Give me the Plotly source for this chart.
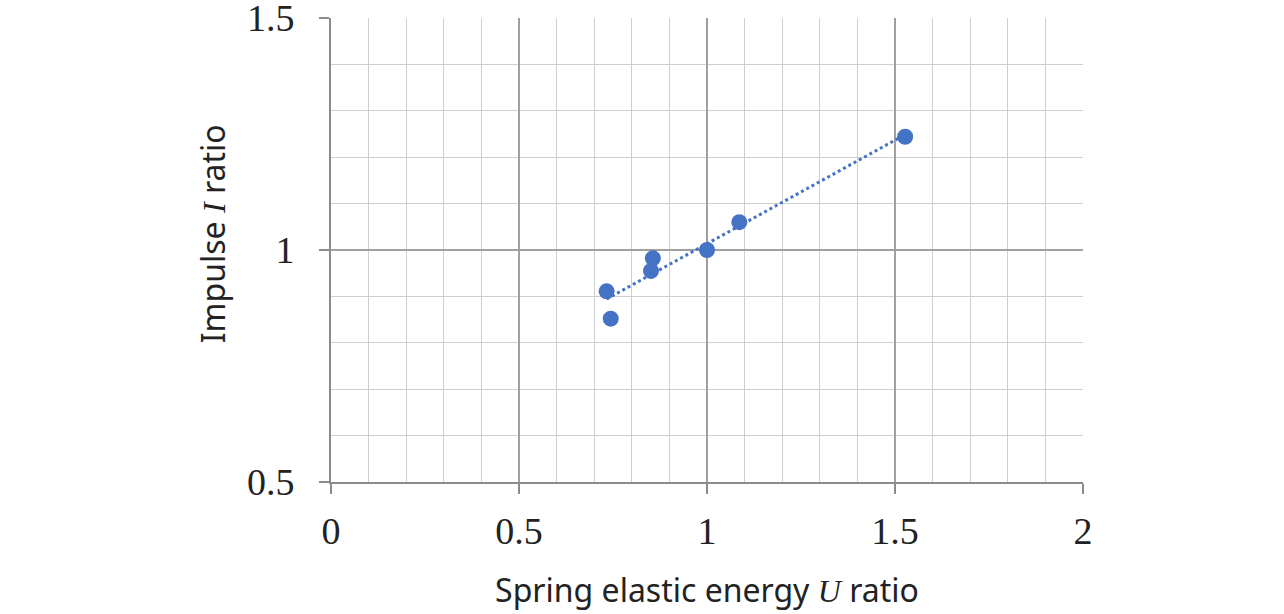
import numpy as np
import plotly.graph_objects as go

energy_ratio = [0.733, 0.744, 0.851, 0.856, 1.0, 1.086, 1.527]
impulse_ratio = [0.911, 0.852, 0.955, 0.982, 1.0, 1.060, 1.244]

x_ticks = [0, 0.5, 1, 1.5, 2]
y_ticks = [0.5, 1, 1.5]

blue = '#4472C4'
serif = 'Liberation Serif'
sans = 'Noto Sans'

# linear trendline through the points
slope, icpt = np.polyfit(energy_ratio, impulse_ratio, 1)
x_fit = [min(energy_ratio), max(energy_ratio)]
y_fit = [slope * v + icpt for v in x_fit]

trend = go.Scatter(x=x_fit, y=y_fit, mode='lines',
                   line=dict(color=blue, width=3, dash='dot'),
                   hoverinfo='skip')
points = go.Scatter(x=energy_ratio, y=impulse_ratio, mode='markers',
                    marker=dict(size=16, color=blue))

fig = go.Figure(data=[trend, points])

axis_common = dict(
    showgrid=True, gridcolor='#a0a0a0', gridwidth=1.5,
    minor=dict(dtick=0.1, showgrid=True, gridcolor='#cfcfcf', gridwidth=1,
               ticks=''),
    showline=True, linecolor='#8c8c8c', linewidth=2,
    ticks='outside', ticklen=10, tickcolor='#8c8c8c', tickwidth=2,
    tickfont=dict(family=serif, size=38, color='#222'),
    zeroline=False, fixedrange=True, automargin=False,
    ticklabeloverflow='allow',
)

fig.update_xaxes(range=[0, 2], tickvals=x_ticks,
                 ticktext=['0', '0.5', '1', '1.5', '2'],
                 ticklabelstandoff=4,
                 title=dict(text='Spring elastic energy <i><span style="font-family:Liberation Serif">U</span></i> ratio',
                            font=dict(family=sans, size=32, color='#222'),
                            standoff=29),
                 **axis_common)
fig.update_yaxes(range=[0.5, 1.5], tickvals=y_ticks,
                 ticktext=['0.5', '1', '1.5'],
                 ticklabelstandoff=17,
                 **axis_common)

# y title as an annotation so it can sit a little above centre like the original
fig.add_annotation(text='Impulse <i><span style="font-family:Liberation Serif">I</span></i> ratio',
                   xref='paper', yref='paper', x=0, y=0.534,
                   xshift=-119, xanchor='center', yanchor='middle',
                   textangle=-90, showarrow=False,
                   font=dict(family=sans, size=32, color='#222'))

fig.update_layout(
    width=1284, height=614,
    margin=dict(l=331, r=201, t=18, b=132),
    paper_bgcolor='white', plot_bgcolor='white',
    showlegend=False,
)

fig.write_html("out.html", config={'displayModeBar': False},
               post_script="document.body.style.margin='0';")
